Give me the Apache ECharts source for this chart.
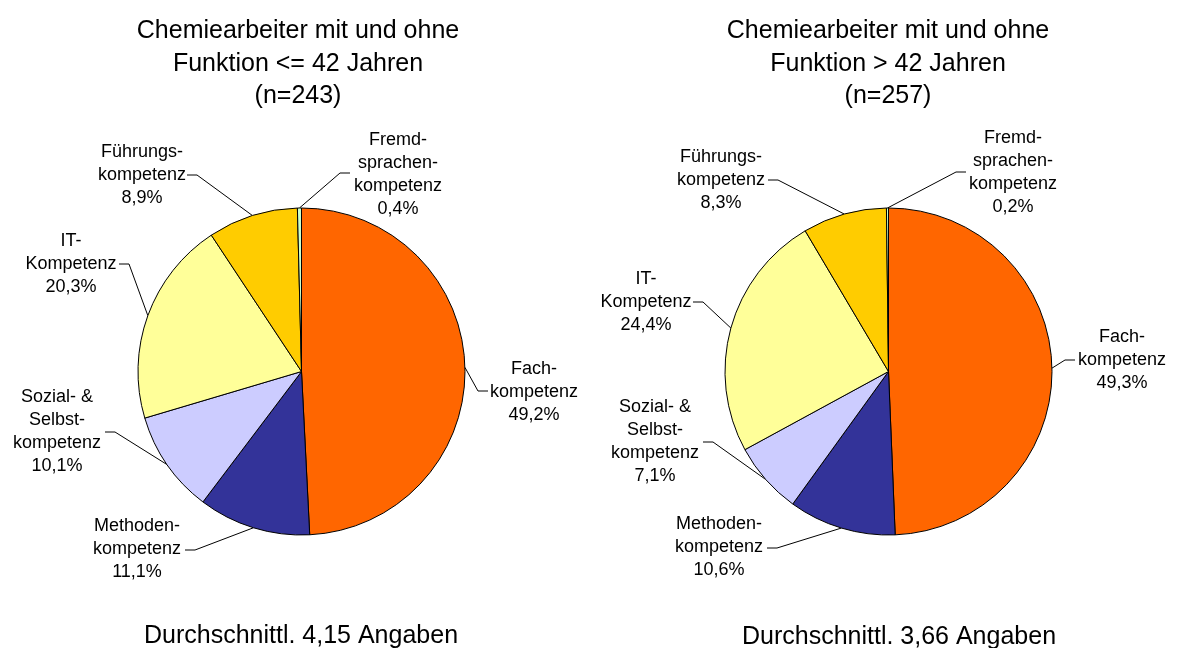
<!DOCTYPE html>
<html>
<head>
<meta charset="utf-8">
<script src="https://cdn.jsdelivr.net/npm/echarts@6/dist/echarts.min.js"></script>
<style>
  html, body { margin: 0; padding: 0; background: #fff; }
  #chart { width: 1177px; height: 648px; }
</style>
</head>
<body>
<div id="chart"></div>
<script>
// Kategorien (mit Silbentrennung wie im Original)
var kategorien = ['Fach-\nkompetenz', 'Methoden-\nkompetenz', 'Sozial- &\nSelbst-\nkompetenz',
  'IT-\nKompetenz', 'Führungs-\nkompetenz', 'Fremd-\nsprachen-\nkompetenz'];
var farben = ['#FF6600', '#333399', '#CCCCFF', '#FFFF99', '#FFCC00', '#CCFFCC'];

// Anteile in %
var werteJung = [49.2, 11.1, 10.1, 20.3, 8.9, 0.4];
var werteAlt = [49.3, 10.6, 7.1, 24.4, 8.3, 0.2];

var titelJung = 'Chemiearbeiter mit und ohne\nFunktion <= 42 Jahren\n(n=243)';
var titelAlt = 'Chemiearbeiter mit und ohne\nFunktion > 42 Jahren\n(n=257)';
var fussJung = 'Durchschnittl. 4,15 Angaben';
var fussAlt = 'Durchschnittl. 3,66 Angaben';

// Lage der Beschriftungen: Textmitte und Ende der Führungslinie
var pies = [
  { center: [301.5, 371.5], r: 163.5,
    text: [[534, 392], [137, 549], [57, 432], [71, 264], [142, 175], [398, 175]],
    end: [[488, 391], [185, 550], [105, 432], [119, 264], [187, 175], [350, 173]] },
  { center: [888.5, 371.5], r: 163.5,
    text: [[1122, 360], [719, 547], [655, 442], [646, 302], [721, 180], [1013, 173]],
    end: [[1075, 360], [767, 548], [703, 442], [693, 302], [768, 180], [966, 172]] }
];

var font = 'Liberation Sans, Arial, sans-serif';

function fmt(v) {
  return v.toFixed(1).replace('.', ',') + '%';
}

function makeData(werte) {
  return werte.map(function (v, i) {
    return { name: kategorien[i], value: v, itemStyle: { color: farben[i] } };
  });
}

function startPunkt(s, i, werte) {
  var sum = 0, before = 0;
  for (var k = 0; k < werte.length; k++) { sum += werte[k]; if (k < i) before += werte[k]; }
  var a = (before + werte[i] / 2) / sum * 2 * Math.PI;
  var p = pies[s];
  return [p.center[0] + p.r * Math.sin(a), p.center[1] - p.r * Math.cos(a)];
}

function makeSeries(s, werte) {
  var p = pies[s];
  return {
    type: 'pie',
    center: p.center,
    radius: p.r,
    startAngle: 90,
    clockwise: true,
    avoidLabelOverlap: false,
    silent: true,
    data: makeData(werte),
    itemStyle: { borderColor: '#000', borderWidth: 1 },
    label: {
      show: true,
      position: 'outside',
      fontFamily: font,
      fontSize: 18,
      lineHeight: 23,
      color: '#000',
      formatter: function (prm) { return prm.name + '\n' + fmt(prm.value); }
    },
    labelLine: { show: true, length: 10, length2: 10, smooth: false,
      lineStyle: { color: '#000', width: 1 } },
    labelLayout: function (prm) {
      var i = prm.dataIndex;
      var start = startPunkt(s, i, werte);
      var end = p.end[i];
      var elbow = [end[0] + (end[0] < p.center[0] ? 10 : -10), end[1]];
      return {
        x: p.text[i][0],
        y: p.text[i][1],
        align: 'center',
        verticalAlign: 'middle',
        labelLinePoints: [start, elbow, end]
      };
    },
    emphasis: { disabled: true }
  };
}

var chart = echarts.init(document.getElementById('chart'));
var titleStyle = { fontFamily: font, fontSize: 25, fontWeight: 'normal', color: '#000', lineHeight: 32.5 };
var option = {
  animation: false,
  backgroundColor: '#fff',
  title: [
    { text: titelJung, left: 298, top: 15, textAlign: 'center', padding: 0, textStyle: titleStyle },
    { text: titelAlt, left: 888, top: 15, textAlign: 'center', padding: 0, textStyle: titleStyle },
    { text: fussJung, left: 301, top: 620, textAlign: 'center', padding: 0, textStyle: titleStyle },
    { text: fussAlt, left: 899, top: 621, textAlign: 'center', padding: 0, textStyle: titleStyle }
  ],
  series: [makeSeries(0, werteJung), makeSeries(1, werteAlt)]
};
chart.setOption(option);
</script>
</body>
</html>
